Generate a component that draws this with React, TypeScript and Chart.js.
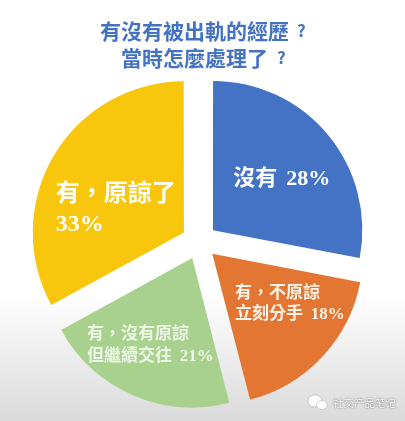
import React, { useEffect, useRef } from "react";
import { Chart, registerables } from "chart.js";

Chart.register(...registerables);

const categories = ["沒有", "有\uFF0C不原諒 立刻分手", "有\uFF0C沒有原諒 但繼續交往", "有\uFF0C原諒了"];
const values = [28, 18, 21, 33];
const colors = ["#4472c4", "#e27632", "#a9d18e", "#f8c60c"];
const titleLines = ["有沒有被出軌的經歷  ", "當時怎麼處理了  "];
const sliceLabels = [["沒有 28%"], ["有\uFF0C不原諒", "立刻分手 18%"], ["有\uFF0C沒有原諒", "但繼續交往 21%"], ["有\uFF0C原諒了", "33%"]];
const watermark = "社交产品笔记";

const serifCjk = "'Liberation Serif', 'Noto Sans CJK TC'";

const labelStyle = [
  { dx: -51, dy: 8, size: 22, gap: 0, color: "#ffffff" },
  { dx: -44.5, dy: -23.4, size: 17, gap: 21, color: "#fdf3ea" },
  { dx: -68.6, dy: -8.2, size: 17, gap: 22, color: "#edf5e6" },
  { dx: -48.7, dy: 8.9, size: 24, gap: 30, color: "#ffffff" },
];

const overlay = {
  id: "overlay",
  afterDatasetsDraw(chart: any) {
    const ctx = chart.ctx;
    const arcs = chart.getDatasetMeta(0).data;
    ctx.save();
    ctx.textAlign = "left";
    ctx.textBaseline = "middle";
    ctx.wordSpacing = "3.5px";
    arcs.forEach((arc: any, i: number) => {
      const p = arc.getCenterPoint();
      const s = labelStyle[i];
      ctx.fillStyle = s.color;
      ctx.font = `bold ${s.size}px ${serifCjk}`;
      sliceLabels[i].forEach((line, j) => {
        ctx.fillText(line, p.x + s.dx, p.y + s.dy + j * s.gap);
      });
    });
    ctx.wordSpacing = "0px";
    // small question marks after the title lines
    ctx.fillStyle = "#4472c4";
    ctx.font = "bold 17px 'Noto Sans CJK TC'";
    ctx.fillText("?", 297, 31);
    ctx.fillText("?", 277, 58);
    // watermark
    ctx.fillStyle = "#ffffff";
    ctx.strokeStyle = "#b0b0b0";
    ctx.lineWidth = 0.6;
    ctx.beginPath();
    ctx.ellipse(315, 401, 7, 6, 0, 0, Math.PI * 2);
    ctx.fill();
    ctx.stroke();
    ctx.beginPath();
    ctx.ellipse(322, 405, 5.5, 4.5, 0, 0, Math.PI * 2);
    ctx.fill();
    ctx.stroke();
    ctx.font = "10.5px 'Noto Sans CJK SC'";
    ctx.shadowColor = "rgba(0,0,0,0.75)";
    ctx.shadowBlur = 1.5;
    ctx.fillStyle = "#ffffff";
    ctx.fillText(watermark, 333, 403);
    ctx.restore();
  },
};

export default function App() {
  const ref = useRef<HTMLCanvasElement>(null);
  useEffect(() => {
    const chart = new Chart(ref.current!, {
      type: "pie",
      data: {
        labels: categories,
        datasets: [{ data: values, backgroundColor: colors, borderWidth: 0, offset: 71.2, radius: 149 }],
      },
      options: {
        animation: false,
        responsive: false,
        layout: { padding: { left: 0, right: 6.4, top: 0, bottom: 9.6 } },
        plugins: {
          legend: { display: false },
          tooltip: { enabled: false },
          title: {
            display: true,
            text: titleLines,
            color: "#4472c4",
            font: { family: "'Noto Sans CJK TC'", size: 21, weight: "bold", lineHeight: 1.29 },
            padding: { top: 17.5, bottom: 0 },
          },
        },
      },
      plugins: [overlay],
    } as any);
    return () => chart.destroy();
  }, []);
  return (
    <div
      style={{
        position: "fixed",
        left: 0,
        top: 0,
        width: 405,
        height: 421,
        background: "linear-gradient(180deg, #ffffff 0%, #ffffff 70%, #dadada 100%)",
      }}
    >
      <canvas ref={ref} width={405} height={421} style={{ display: "block" }} />
    </div>
  );
}
